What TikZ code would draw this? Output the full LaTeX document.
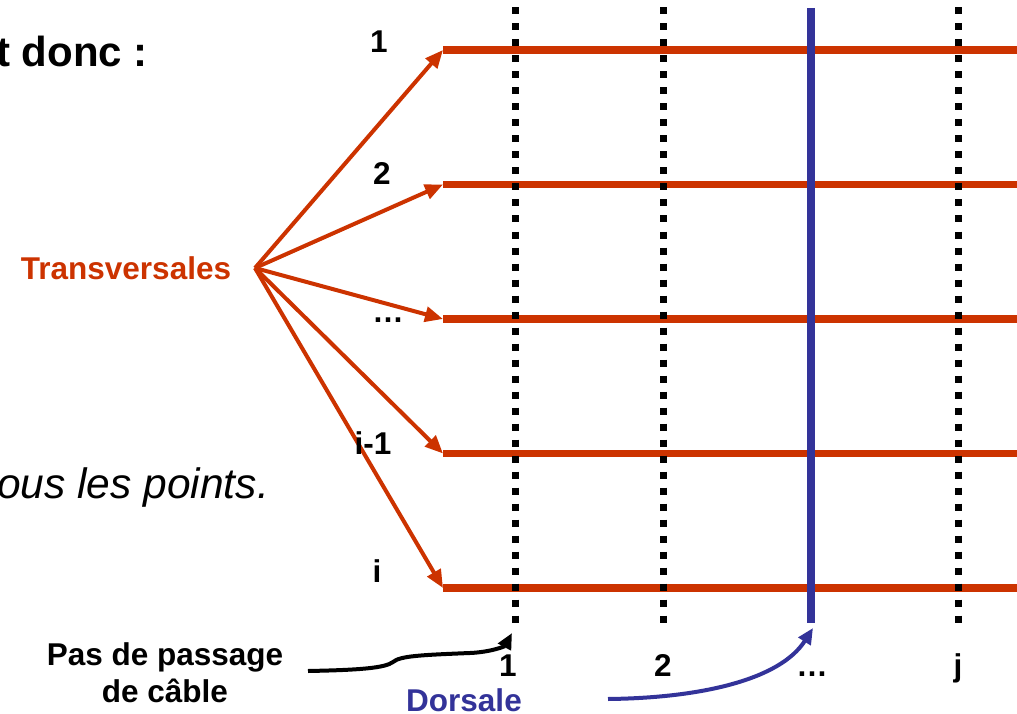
\documentclass[tikz,border=0pt]{standalone}
\usepackage{fontspec}
\setmainfont{Liberation Sans}
\usetikzlibrary{arrows.meta}
\definecolor{trred}{RGB}{204,51,0}
\definecolor{dorsblue}{RGB}{51,51,153}

\begin{document}
\begin{tikzpicture}[x=1pt,y=-1pt,
  lbl/.style={inner sep=0pt,anchor=base,font=\fontsize{31.5}{37}\selectfont\bfseries},
  big/.style={inner sep=0pt,anchor=base west},
  trans/.style={line width=7.5pt,trred},
  fan/.style={line width=4pt,trred,-{Triangle[length=18pt,width=15pt]}},
  dots/.style={line width=7pt,dash pattern=on 7pt off 9pt},
  dors/.style={line width=8pt,dorsblue},
  pointer/.style={line width=4pt,-{Triangle[length=16pt,width=14pt]}}]
\useasboundingbox (0,0) rectangle (1017,714);

% text fragments at the page edges
\node[big,font=\fontsize{42}{50}\selectfont\bfseries] (donc) at (-4,67) {t donc :};
\node[big,font=\fontsize{42.5}{50}\selectfont\itshape] (pts) at (-3,498) {ous les points.};

% transversal lines
\foreach \k/\y in {1/50,2/184.5,3/319,4/453.5,5/588}{
  \coordinate (t\k) at (443,\y);
  \coordinate (e\k) at (1017,\y);
  \draw[trans] (t\k) -- (e\k);
}

% cable passage columns (dotted)
\foreach \k/\x in {1/515,2/663,3/958}{
  \coordinate (c\k top) at (\x,7.5);
  \coordinate (c\k bot) at (\x,622.5);
  \draw[dots] (c\k top) -- (c\k bot);
}

% backbone
\coordinate (dtop) at (811,8);
\coordinate (dbot) at (811,623);
\draw[dors] (dtop) -- (dbot);

% fan of arrows from the label
\node[lbl,text=trred] (tr) at (126,279) {Transversales};
\coordinate (o) at (255,268);
\foreach \k in {1,...,5}{ \draw[fan] (o) -- (t\k); }

% row labels
\node[lbl] (r1) at (379,53) {1};
\node[lbl] (r2) at (382,185) {2};
\node[lbl] (r3) at (388,322) {…};
\node[lbl] (r4) at (373,454) {i-1};
\node[lbl] (r5) at (377,582) {i};

% column labels
\node[lbl] (k1) at (508,676) {1};
\node[lbl] (k2) at (663,676) {2};
\node[lbl] (k3) at (812,676) {…};
\node[lbl] (k4) at (958,676) {j};

% bottom captions
\node[lbl] (pas1) at (165,665) {Pas de passage};
\node[lbl] (pas2) at (165,702) {de câble};
\node[lbl,text=dorsblue] (dl) at (464,711) {Dorsale};

\coordinate (src) at (308,671);
\coordinate (dst) at (512,633);
\draw[pointer] (src) .. controls (360,670) and (385,668) .. (393,662)
  .. controls (400,656) and (420,655) .. (470,653)
  .. controls (492,652) and (505,646) .. (dst);

\coordinate (bsrc) at (608,699);
\coordinate (bdst) at (813,628);
\draw[pointer,dorsblue] (bsrc) .. controls (700,698) and (780,680) .. (bdst);
\end{tikzpicture}
\end{document}
